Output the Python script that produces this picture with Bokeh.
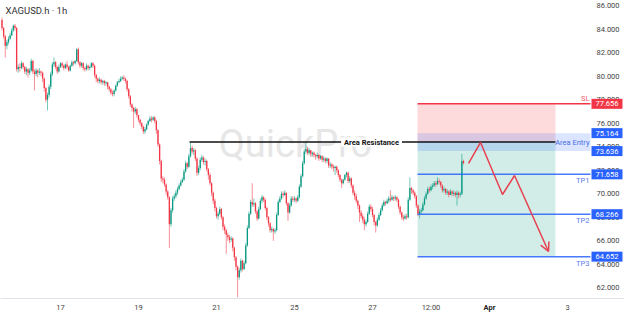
from bokeh.plotting import figure
from bokeh.models import Range1d, FixedTicker, Label, Arrow, OpenHead, ColumnDataSource, PrintfTickFormatter
from bokeh.embed import file_html
from bokeh.resources import INLINE
from bokeh.core.properties import value

SYMBOL = "XAGUSD.h · 1h"

# Hourly bars; bar 0 is the first bar of the 17th, 24 slots per trading day.
first_bar = -36
first_open = 84.8
closes = [
    84.1, 83.4, 82.6, 82.9, 83.2, 83.5, 83.9, 84.3, 84.1, 80.6, 80.8, 80.7,
    81.1, 80.8, 80.4, 80.6, 80.3, 80.5, 81.3, 80.4, 80.2, 80.5, 80.3, 80.4, 80.3, 79.8, 79.0, 78.0, 78.4, 79.1, 80.2, 81.0, 81.2, 80.8, 80.4, 80.8,
    81.1, 80.9, 80.7, 81.0, 80.8, 80.5, 80.9, 81.2, 81.1, 81.3, 82.3, 81.2, 80.9, 81.1, 80.7, 80.6, 80.9, 80.7, 80.8, 81.1, 80.9, 80.1, 79.8, 79.6,
    79.7, 79.5, 79.6, 79.4, 79.5, 79.1, 78.9, 78.6, 78.5, 78.8, 79.2, 79.5, 79.6, 79.8, 79.9, 79.8, 79.6, 78.9, 78.3, 77.6, 77.3, 77.0, 77.2, 76.7,
    76.3, 76.0, 75.7, 75.3, 75.5, 75.9, 76.2, 76.4, 76.3, 76.5, 76.2, 75.4, 74.2, 72.8, 71.3, 71.2, 70.8, 70.2, 69.7, 67.4, 68.6, 69.6, 69.8, 70.1,
    70.4, 70.7, 71.0, 71.2, 71.9, 72.6, 72.3, 73.2, 73.9, 73.6, 73.7, 73.0, 71.8, 72.2, 72.9, 73.1, 72.7, 72.8, 72.1, 71.6, 70.9, 70.1, 69.4, 68.8,
    68.1, 68.3, 68.7, 68.0, 67.2, 66.9, 66.5, 66.3, 66.1, 66.2, 65.4, 64.6, 63.8, 62.9, 63.5, 64.3, 63.6, 64.1, 65.6, 67.1, 68.3, 69.3, 69.1, 69.2,
    68.5, 67.9, 68.7, 69.4, 69.7, 69.5, 68.8, 68.0, 67.5, 66.9, 67.0, 66.8, 66.9, 68.2, 69.3, 69.6, 70.0, 69.9, 70.1, 69.2, 68.4, 69.0, 69.6, 69.5,
    69.6, 69.4, 69.7, 70.6, 71.5, 72.6, 73.6, 73.8, 73.5, 73.7, 73.4, 73.5, 73.3, 73.2, 73.3, 73.0, 73.2, 72.9, 73.0, 72.8, 73.0, 72.4, 72.5, 72.3,
    72.2, 72.3, 72.0, 71.6, 71.2, 70.9, 71.2, 71.6, 71.8, 71.1, 71.3, 70.7, 70.1, 69.8, 69.4, 69.0, 68.4, 68.1, 67.8, 67.4, 67.6, 68.3, 68.9, 68.7,
    68.2, 67.6, 67.3, 67.8, 68.2, 68.6, 69.0, 69.3, 69.2, 69.4, 69.6, 69.5, 69.7, 69.6, 69.7, 69.5, 68.9, 68.4, 68.0, 67.9, 68.1, 68.0, 69.5, 70.5,
    70.3, 70.1, 69.8, 69.0, 68.3, 68.5, 68.6, 69.1, 69.6, 70.0, 70.4, 70.3, 70.6, 70.7, 70.9, 70.8, 71.1, 71.0, 70.7, 70.3, 70.4, 70.1, 70.2, 69.9,
    70.2, 70.0, 70.1, 69.9, 70.1, 69.9, 70.0, 72.8, 72.6,
]
highs = [
    85.0, 84.2, 83.5, 83.1, 83.4, 83.7, 84.1, 84.4, 84.45, 84.2, 81.0, 81.1,
    81.3, 81.2, 80.9, 80.8, 80.7, 80.7, 81.5, 81.4, 80.6, 80.7, 80.6, 80.7, 80.5, 80.4, 79.9, 79.1, 78.6, 79.3, 80.4, 81.2, 81.6, 81.3, 80.9, 81.0,
    81.2, 81.2, 81.0, 81.1, 81.3, 80.9, 81.0, 81.35, 81.3, 81.4, 82.4, 82.45, 81.3, 81.2, 81.2, 80.8, 81.1, 81.0, 80.9, 81.2, 81.2, 81.0, 80.2, 79.9,
    79.9, 79.8, 79.7, 79.7, 79.6, 79.5, 79.2, 79.0, 78.8, 78.9, 79.3, 79.6, 79.8, 80.0, 80.0, 80.1, 79.9, 79.7, 79.0, 78.4, 77.7, 77.4, 77.4, 77.3,
    76.7, 76.4, 76.1, 75.8, 75.7, 76.0, 76.3, 76.6, 76.6, 76.6, 76.6, 76.3, 75.5, 74.3, 72.9, 71.5, 71.4, 70.9, 70.3, 69.8, 68.8, 69.8, 70.0, 70.3,
    70.6, 70.9, 71.2, 71.4, 72.1, 72.8, 72.7, 73.4, 74.35, 74.1, 73.9, 73.8, 73.1, 72.4, 73.1, 73.3, 73.2, 73.0, 72.9, 72.2, 71.8, 71.0, 70.2, 69.6,
    68.9, 68.5, 68.9, 68.8, 68.1, 67.4, 67.0, 66.7, 66.5, 66.4, 66.3, 65.5, 64.7, 63.9, 63.7, 64.5, 64.4, 64.3, 65.8, 67.3, 68.5, 69.5, 70.9, 69.6,
    69.3, 68.6, 68.9, 69.6, 69.9, 69.8, 69.6, 68.9, 68.1, 67.6, 67.2, 67.1, 67.1, 68.4, 69.5, 69.8, 70.2, 70.2, 70.3, 70.1, 69.3, 69.2, 69.8, 69.8,
    69.8, 69.7, 69.9, 70.8, 71.7, 72.8, 73.8, 74.35, 74.0, 73.9, 73.7, 73.6, 73.6, 73.4, 73.5, 73.4, 73.3, 73.3, 73.2, 73.1, 73.1, 73.0, 72.7, 72.6,
    72.5, 72.4, 72.4, 72.1, 71.7, 71.3, 71.3, 71.7, 71.9, 71.9, 71.5, 71.4, 70.8, 70.3, 70.0, 69.5, 69.1, 68.6, 68.3, 68.0, 67.8, 68.5, 69.1, 69.1,
    68.9, 68.3, 67.7, 68.0, 68.4, 68.8, 69.2, 69.5, 69.4, 69.6, 69.8, 70.3, 69.9, 69.8, 69.9, 69.8, 69.6, 69.0, 68.5, 68.2, 68.3, 68.3, 69.7, 71.4,
    70.6, 70.4, 70.2, 69.9, 69.1, 68.7, 68.8, 69.3, 69.8, 70.2, 70.6, 70.6, 70.8, 70.9, 71.1, 71.1, 71.4, 71.3, 71.1, 70.8, 70.6, 70.5, 70.4, 70.3,
    70.4, 70.3, 70.3, 70.2, 70.3, 70.2, 70.2, 73.4, 72.9,
]
lows = [
    83.9, 83.2, 81.6, 82.3, 82.7, 83.1, 83.4, 83.8, 83.9, 80.4, 80.3, 80.4,
    80.6, 80.6, 80.2, 80.1, 79.9, 80.1, 80.4, 80.2, 78.8, 80.0, 79.9, 80.1, 80.0, 79.5, 78.7, 77.8, 77.1, 78.2, 78.9, 80.0, 80.8, 80.6, 80.2, 80.3,
    80.7, 80.7, 80.5, 80.6, 80.6, 80.4, 80.4, 80.8, 80.9, 81.0, 81.2, 81.0, 80.7, 80.75, 80.5, 80.4, 80.5, 80.5, 80.5, 80.7, 80.7, 79.9, 79.5, 79.4,
    79.4, 79.3, 79.3, 79.2, 79.2, 78.9, 78.7, 78.4, 78.3, 78.3, 78.7, 79.1, 79.4, 79.5, 79.7, 79.6, 79.4, 78.7, 78.1, 77.4, 77.0, 75.6, 76.8, 76.5,
    76.1, 75.8, 75.5, 75.1, 75.1, 75.4, 75.8, 76.1, 76.1, 76.2, 76.0, 75.1, 74.0, 72.5, 71.0, 70.9, 70.6, 69.9, 69.5, 65.4, 67.2, 68.4, 69.4, 69.6,
    69.9, 70.3, 70.6, 70.9, 71.1, 71.8, 72.1, 72.2, 73.1, 73.4, 73.3, 72.8, 71.5, 71.6, 72.0, 72.7, 72.5, 72.4, 71.9, 71.2, 70.7, 69.8, 69.1, 68.5,
    67.9, 67.8, 68.2, 67.8, 66.9, 66.6, 64.9, 66.0, 65.8, 65.9, 65.1, 64.3, 63.5, 61.2, 62.7, 63.3, 63.4, 63.5, 64.0, 65.5, 67.0, 68.2, 68.9, 68.9,
    68.3, 67.7, 67.8, 68.6, 69.2, 69.3, 68.6, 67.8, 67.2, 66.7, 66.7, 66.0, 66.6, 66.8, 68.1, 69.2, 69.5, 69.7, 69.8, 69.0, 67.7, 68.3, 68.9, 69.3,
    69.3, 69.2, 69.3, 69.6, 70.5, 71.4, 72.5, 73.4, 73.3, 73.4, 73.2, 73.2, 73.1, 72.9, 73.0, 72.8, 72.9, 72.7, 72.7, 72.6, 72.6, 72.2, 72.2, 72.1,
    71.9, 71.6, 71.8, 71.4, 71.0, 70.5, 70.8, 71.1, 71.4, 70.9, 70.9, 70.5, 69.9, 69.5, 69.2, 68.7, 67.6, 67.9, 67.5, 66.9, 67.2, 67.5, 68.2, 68.5,
    68.0, 67.3, 66.7, 67.2, 67.7, 68.1, 68.5, 68.9, 69.0, 69.1, 69.2, 69.3, 69.4, 69.4, 69.4, 69.3, 68.7, 68.2, 67.8, 67.7, 67.8, 67.8, 67.9, 69.4,
    70.0, 69.9, 69.6, 68.8, 68.1, 67.9, 68.3, 68.5, 69.0, 69.5, 69.9, 70.1, 70.2, 70.4, 70.6, 70.6, 70.8, 70.8, 70.5, 70.1, 70.1, 69.9, 69.9, 69.7,
    69.9, 69.8, 69.8, 69.7, 69.0, 69.6, 69.7, 69.9, 72.5,
]

# Time axis (bar slots) and price axis
day_ticks = [0, 48, 96, 144, 192, 228, 264, 312]
day_labels = ["17", "19", "21", "25", "27", "12:00", "Apr", "3"]
price_ticks = [62, 64, 66, 68, 70, 72, 74, 76, 78, 80, 82, 84, 86]

# Trade plan
stop_loss = 77.656
entry_high = 75.164
entry_low = 73.636
resistance = 74.40
tp_levels = [71.658, 68.266, 64.652]
tp_names = ["TP1", "TP2", "TP3"]
resistance_from = 79.4
plan_from = 219.7
plan_to = 304.6
projection_x = [251.1, 258.5, 272.0, 279.4, 300.3]
projection_y = [72.58, 74.37, 69.94, 71.56, 65.09]

UP = "#089981"
DOWN = "#f23645"
BLUE = "#2962ff"
FONT = "Roboto"

# The frame fills the whole canvas; both scales are pinned inside it.
X0, X1 = -36.92, 347.08
Y0, Y1 = 59.56, 86.45
SCALE_X = 326.15      # price scale edge
TIME_Y = 61.09        # time scale edge
TAG_X = 336.3
DATE_Y = 60.32

p = figure(width=624, height=316, x_range=Range1d(X0, X1), y_range=Range1d(Y0, Y1),
           y_axis_location="right", toolbar_location=None, output_backend="svg",
           min_border=0, background_fill_color="white", border_fill_color="white",
           outline_line_color=None)
p.grid.visible = False

# watermark
p.text(x=[144.6], y=[74.28], text=["QuickPro"], text_font=value(FONT), text_font_size="38px",
       text_color="#e6e6e6", text_align="center", text_baseline="alphabetic")

# trade plan zones
p.quad(left=[plan_from], right=[plan_to], bottom=[resistance], top=[stop_loss],
       fill_color=DOWN, fill_alpha=0.18, line_color=None)
p.quad(left=[plan_from], right=[plan_to], bottom=[tp_levels[-1]], top=[resistance],
       fill_color=UP, fill_alpha=0.18, line_color=None)
p.quad(left=[plan_from], right=[SCALE_X], bottom=[entry_low], top=[entry_high],
       fill_color=BLUE, fill_alpha=0.17, line_color=None)

# candles
bars = list(range(first_bar, first_bar + len(closes)))
opens = [first_open] + closes[:-1]
rows = {"up": dict(x=[], top=[], bottom=[], hi=[], lo=[]), "down": dict(x=[], top=[], bottom=[], hi=[], lo=[])}
for b, o, h, l, c in zip(bars, opens, highs, lows, closes):
    d = rows["up" if c >= o else "down"]
    top, bot = max(o, c), min(o, c)
    if top - bot < 0.04:
        top = bot + 0.04
    d["x"].append(b)
    d["top"].append(top)
    d["bottom"].append(bot)
    d["hi"].append(max(h, top))
    d["lo"].append(min(l, bot))
for key, col in (("up", UP), ("down", DOWN)):
    src = ColumnDataSource(rows[key])
    p.segment(x0="x", y0="lo", x1="x", y1="hi", source=src, line_color=col, line_alpha=0.55, line_width=1)
    p.vbar(x="x", width=0.8, top="top", bottom="bottom", source=src, fill_color=col, line_color=None)

# level lines
p.line([resistance_from, plan_to], [resistance, resistance], line_color="#111111", line_width=1.5)
p.line([plan_from, SCALE_X], [stop_loss, stop_loss], line_color=DOWN, line_width=1.5)
for lvl in tp_levels:
    p.line([plan_from, SCALE_X], [lvl, lvl], line_color=BLUE, line_width=1.5, line_alpha=0.85)

# projected path
p.line(projection_x[:-1], projection_y[:-1], line_color="#e8404e", line_width=1.5)
p.add_layout(Arrow(end=OpenHead(size=9, line_color="#e8404e", line_width=1.5),
                   x_start=projection_x[-2], y_start=projection_y[-2],
                   x_end=projection_x[-1], y_end=projection_y[-1],
                   line_color="#e8404e", line_width=1.5))

# axes
xa = p.xaxis[0]
xa.fixed_location = TIME_Y
xa.ticker = FixedTicker(ticks=day_ticks)
xa.major_label_overrides = {t: ("" if lab == "Apr" else lab) for t, lab in zip(day_ticks, day_labels)}
xa.axis_line_color = "#e0e3eb"
xa.major_tick_line_color = None
xa.minor_tick_line_color = None
xa.major_tick_out = 0
xa.major_tick_in = 0
xa.minor_tick_out = 0
xa.major_label_standoff = 4
xa.major_label_text_font = FONT
xa.major_label_text_font_size = "7.5px"
xa.major_label_text_color = "#444444"

ya = p.yaxis[0]
ya.fixed_location = SCALE_X
ya.ticker = FixedTicker(ticks=price_ticks)
ya.formatter = PrintfTickFormatter(format="%.3f")
ya.axis_line_color = None
ya.major_tick_line_color = None
ya.minor_tick_line_color = None
ya.major_tick_out = 0
ya.major_tick_in = 0
ya.minor_tick_out = 0
ya.major_label_standoff = 6
ya.major_label_text_font = FONT
ya.major_label_text_font_size = "7.5px"
ya.major_label_text_color = "#444444"

for t, lab in zip(day_ticks, day_labels):
    if lab == "Apr":
        p.add_layout(Label(x=t, y=DATE_Y, text=lab, text_font=FONT, text_font_size="7.5px",
                           text_font_style="bold", text_color="#222222",
                           text_align="center", text_baseline="middle"))

# texts
p.add_layout(Label(x=-33.85, y=85.6, text=SYMBOL, text_font=FONT, text_font_size="9.5px",
                   text_color="#333333", text_align="left", text_baseline="middle"))
p.add_layout(Label(x=191.4, y=resistance, text="Area Resistance", text_font=FONT, text_font_size="7.5px",
                   text_font_style="bold", text_color="#111111", text_align="center", text_baseline="middle",
                   background_fill_color="white", padding=dict(left=3, right=3, top=0, bottom=0)))
p.add_layout(Label(x=325.5, y=stop_loss, y_offset=1, text="SL", text_font=FONT, text_font_size="7.5px",
                   text_color="#f0606c", text_align="right", text_baseline="bottom"))
p.add_layout(Label(x=325.5, y=resistance, text="Area Entry", text_font=FONT, text_font_size="7.5px",
                   text_color="#4a6fe3", text_align="right", text_baseline="middle"))
for lvl, name in zip(tp_levels, tp_names):
    p.add_layout(Label(x=325.5, y=lvl, y_offset=-2, text=name, text_font=FONT, text_font_size="7.5px",
                       text_color="#5a7be8", text_align="right", text_baseline="top"))

# price tags on the scale, drawn above the scale labels
tag_levels = [stop_loss, entry_high, entry_low] + tp_levels
tags = ColumnDataSource(dict(
    x=[TAG_X] * len(tag_levels),
    y=tag_levels,
    text=[f"{v:.3f}" for v in tag_levels],
    color=[DOWN] + [BLUE] * (len(tag_levels) - 1),
))
p.rect(x="x", y="y", width=31, height=10, width_units="screen", height_units="screen",
       source=tags, fill_color="color", line_color=None, level="overlay")
p.text(x="x", y="y", text="text", source=tags, text_font=value(FONT), text_font_size="7.5px",
       text_color="white", text_align="center", text_baseline="middle", level="overlay")

open("out.html", "w").write(file_html(p, INLINE))
